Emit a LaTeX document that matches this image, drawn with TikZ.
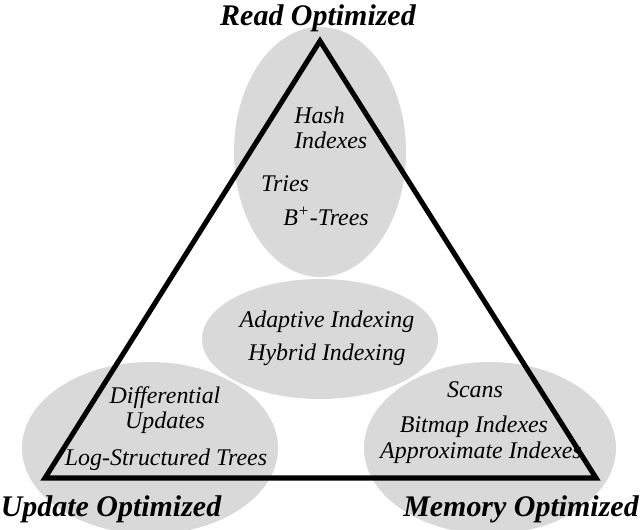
\documentclass[tikz,border=0pt]{standalone}
\usepackage{fontspec}
\setmainfont{Liberation Serif}
\usepackage{xcolor}
\usepackage{tikz}
\definecolor{blobgray}{RGB}{217,217,217}

\begin{document}
\begin{tikzpicture}[
    x=0.025cm, y=-0.025cm,
    blob/.style={fill=blobgray},
    item/.style={font=\itshape\fontsize{17}{18}\selectfont, inner sep=0pt, align=center},
    corner/.style={font=\bfseries\itshape\fontsize{21.3}{24}\selectfont, inner sep=0pt},
    edge/.style={line width=3.6pt, line join=miter}
]
\useasboundingbox (0,0) rectangle (640,529);

% grey regions
\fill[blob] (320,152) ellipse [x radius=86, y radius=125];
\fill[blob] (320,339) ellipse [x radius=118, y radius=60];
\fill[blob] (150,448) ellipse [x radius=128, y radius=86];
\fill[blob] (490,448) ellipse [x radius=126, y radius=86];

% triangle
\coordinate (read) at (320,41);
\coordinate (update) at (45,478);
\coordinate (memory) at (596,478);
\draw[edge] (read) -- (update) -- (memory) -- cycle;

% corner labels
\node[corner, anchor=base] (readlbl) at (318,25) {Read Optimized};
\node[corner, anchor=base] (updatelbl) at (111,516) {Update Optimized};
\node[corner, anchor=base] (memorylbl) at (521,516) {Memory Optimized};

% read side
\node[item, align=left, anchor=west] (hash) at (294,128) {Hash\\Indexes};
\node[item, anchor=base] (tries) at (285,191) {Tries};
\node[item, anchor=base] (btree) at (326,225) {B\textsuperscript{+}-Trees};

% middle
\node[item, anchor=base] (adaptive) at (327,327) {Adaptive Indexing};
\node[item, anchor=base] (hybrid) at (327,360) {Hybrid Indexing};

% update side
\node[item] (diff) at (165,410) {Differential\\Updates};
\node[item, anchor=base] (lsm) at (166,465) {Log-Structured Trees};

% memory side
\node[item, anchor=base] (scans) at (475,397) {Scans};
\node[item, anchor=base] (bitmap) at (474,432) {Bitmap Indexes};
\node[item, anchor=base] (approx) at (481,458) {Approximate Indexes};

\end{tikzpicture}
\end{document}
